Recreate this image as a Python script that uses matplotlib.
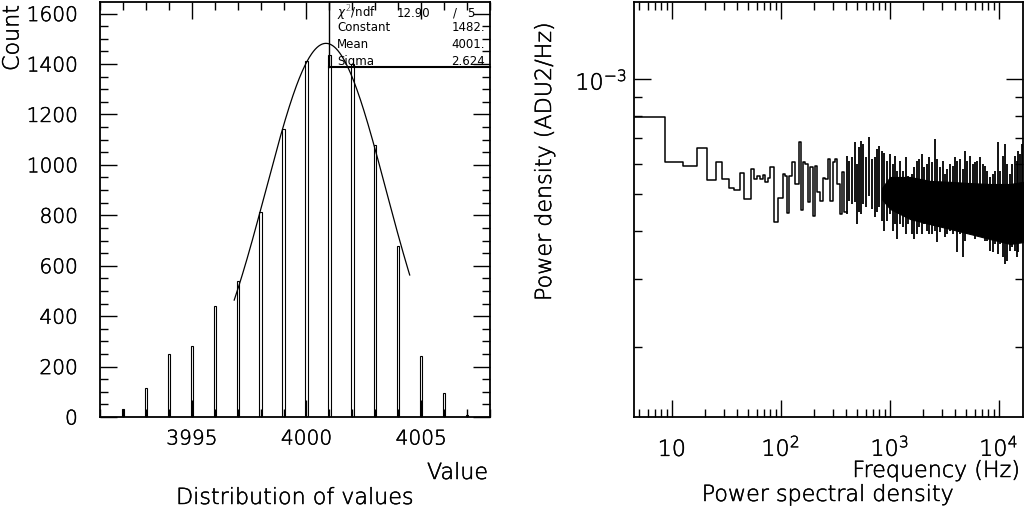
import numpy as np
import matplotlib
matplotlib.use("Agg")
import matplotlib.pyplot as plt
import matplotlib.patheffects as pe
from matplotlib.ticker import FixedLocator, MultipleLocator, NullFormatter, FixedFormatter, LogLocator

plt.rcParams['font.family'] = ['DejaVu Sans']
plt.rcParams['font.weight'] = 'light'
plt.rcParams['mathtext.fontset'] = 'dejavusans'

# ---------------- Left panel data: distribution of values ----------------
hist_values = [3992, 3993, 3994, 3995, 3996, 3997, 3998, 3999, 4000,
               4001, 4002, 4003, 4004, 4005, 4006, 4007]
hist_counts = [32, 115, 250, 281, 442, 539, 812, 1143, 1412,
               1437, 1401, 1080, 680, 241, 95, 8]
fit_constant = 1482.0
fit_mean = 4000.85
fit_sigma = 2.624
fit_lo, fit_hi = 3996.85, 4004.5
stats_names = [r"$\chi^2$/ndf", "Constant", "Mean", "Sigma"]
stats_vals = ["12.90", "1482.", "4001.", "2.624"]
stats_ndf = "5"
left_xticks = [3995, 4000, 4005]

# ---------------- Right panel data: power spectral density ----------------
# resolved low-frequency bins (left edge in Hz, power in ADU2/Hz)
psd_freq = [4.3, 8.68, 12.78, 16.95, 20.9, 25.3, 29.1, 33.6, 37.5, 42.3,
            46.1, 50.4, 53.4, 57.3, 60.2, 64.6, 68.4, 71.8, 76.5, 79.8,
            86.8, 95.1, 104.3, 109.5, 113.5, 119.9, 126.2, 135.3, 148.2, 152.6,
            160.2, 167.1, 176.2, 185.7, 196.6, 206.4, 216.7, 229.5, 246.0, 254.9,
            273.4, 283.4, 300.0, 315.0, 330.7, 349.9, 362.7, 380.8, 397.3]
psd_power = [7.97e-4, 6.06e-4, 5.94e-4, 6.62e-4, 5.45e-4, 6.07e-4, 5.48e-4, 5.18e-4, 5.13e-4, 5.68e-4,
             4.86e-4, 4.87e-4, 5.83e-4, 5.48e-4, 5.59e-4, 5.48e-4, 5.62e-4, 5.39e-4, 5.51e-4, 5.88e-4,
             4.24e-4, 4.89e-4, 5.65e-4, 5.59e-4, 4.46e-4, 5.59e-4, 6.06e-4, 5.32e-4, 6.83e-4, 4.56e-4,
             6.06e-4, 6.00e-4, 4.77e-4, 5.88e-4, 4.38e-4, 5.94e-4, 5.06e-4, 4.81e-4, 5.50e-4, 5.48e-4,
             6.18e-4, 4.81e-4, 6.06e-4, 6.18e-4, 5.32e-4, 4.44e-4, 5.71e-4, 4.49e-4, 4.49e-4]

# dense high-frequency region, read column by column: max and min excursions
col_freq = [405.8, 426.0, 448.2, 480.6, 504.5, 526.2, 548.9, 572.6, 606.2, 641.7,
            683.9, 733.1, 769.6, 802.9, 844.6, 886.7, 938.6, 1006.5, 1065.4, 1118.4,
            1174.0, 1243.1, 1332.7, 1410.6, 1480.8, 1591.1, 1670.4, 1769.4, 1868.5, 1966.8,
            2064.6, 2185.5, 2309.2, 2429.2, 2603.4, 2733.2, 2894.2, 3063.9, 3217.3, 3377.4,
            3575.4, 3784.4, 3972.6, 4170.2, 4415.7, 4673.7, 4907.4, 5150.7, 5453.4, 5773.8,
            6061.3, 6363.0, 6737.1, 7134.4, 7489.6, 7862.5, 8324.6, 8810.5, 9307.0, 9854.1,
            10277, 10882, 11424, 11993, 12698, 13331, 14025, 14630, 15128, 15684, 16361]
col_hi = [6.31e-4, 6.12e-4, 6.25e-4, 6.83e-4, 6.00e-4, 6.63e-4, 6.90e-4, 6.77e-4, 6.25e-4, 7.07e-4,
          6.18e-4, 6.25e-4, 6.56e-4, 6.69e-4, 6.50e-4, 6.43e-4, 6.12e-4, 6.37e-4, 6.00e-4, 6.31e-4,
          5.76e-4, 6.12e-4, 5.76e-4, 6.25e-4, 5.59e-4, 5.65e-4, 5.88e-4, 6.12e-4, 6.18e-4, 6.37e-4,
          5.88e-4, 6.00e-4, 6.25e-4, 6.06e-4, 6.97e-4, 6.18e-4, 5.88e-4, 6.12e-4, 5.65e-4, 5.82e-4,
          6.00e-4, 5.94e-4, 6.25e-4, 6.12e-4, 6.18e-4, 5.82e-4, 6.50e-4, 6.12e-4, 6.31e-4, 6.00e-4,
          6.06e-4, 6.12e-4, 6.25e-4, 6.00e-4, 5.94e-4, 5.76e-4, 5.54e-4, 5.65e-4, 5.76e-4, 6.83e-4,
          5.76e-4, 6.31e-4, 6.77e-4, 6.00e-4, 5.65e-4, 6.00e-4, 6.31e-4, 6.12e-4, 6.50e-4, 6.37e-4, 6.77e-4]
col_lo = [4.44e-4, 4.81e-4, 4.72e-4, 4.77e-4, 4.18e-4, 4.49e-4, 4.44e-4, 4.72e-4, 4.62e-4, 4.96e-4,
          4.58e-4, 4.35e-4, 4.49e-4, 4.62e-4, 4.27e-4, 4.02e-4, 4.27e-4, 4.44e-4, 4.02e-4, 4.18e-4,
          3.82e-4, 4.18e-4, 4.10e-4, 3.94e-4, 4.18e-4, 3.94e-4, 3.82e-4, 3.94e-4, 4.10e-4, 3.94e-4,
          4.18e-4, 4.02e-4, 3.94e-4, 3.94e-4, 4.02e-4, 3.75e-4, 3.98e-4, 4.10e-4, 3.86e-4, 3.94e-4,
          4.02e-4, 3.94e-4, 4.10e-4, 3.53e-4, 3.94e-4, 3.42e-4, 3.78e-4, 3.94e-4, 4.10e-4, 4.02e-4,
          3.82e-4, 4.06e-4, 3.94e-4, 3.86e-4, 3.78e-4, 3.78e-4, 3.56e-4, 3.53e-4, 3.71e-4, 3.49e-4,
          3.71e-4, 3.42e-4, 3.29e-4, 3.35e-4, 3.56e-4, 3.64e-4, 3.56e-4, 3.42e-4, 3.53e-4, 3.78e-4, 3.78e-4]

# solid core of the dense region (thin where it starts)
band_freq = [850, 1006, 1536, 2343, 3575, 5453, 8325, 12698, 16710]
band_hi = [5.20e-4, 5.55e-4, 5.55e-4, 5.42e-4, 5.39e-4, 5.35e-4, 5.32e-4, 5.32e-4, 5.39e-4]
band_lo = [4.85e-4, 4.58e-4, 4.31e-4, 4.18e-4, 4.06e-4, 3.94e-4, 3.82e-4, 3.71e-4, 3.75e-4]

right_xticks = [10, 100, 1000, 10000]
right_xticklabels = ["10", r"$10^{2}$", r"$10^{3}$", r"$10^{4}$"]
right_yticks = [1e-3]
right_yticklabels = [r"$10^{-3}$"]

# ---------------- Figure ----------------
W, H = 1026, 510
fig = plt.figure(figsize=(W / 100, H / 100), dpi=100)
ax1 = fig.add_axes([100 / W, 1 - 418 / H, 390 / W, 415 / H])
ax2 = fig.add_axes([634 / W, 1 - 418 / H, 389 / W, 415 / H])

TICK_FS = 14.5
LABEL_FS = 16
DARKEN = [pe.withStroke(linewidth=0.35, foreground='black')]

# ---- left ----
ax1.bar(hist_values, hist_counts, width=0.1, fill=False, edgecolor='k', linewidth=0.8)
xf = np.linspace(fit_lo, fit_hi, 300)
ax1.plot(xf, fit_constant * np.exp(-0.5 * ((xf - fit_mean) / fit_sigma) ** 2), color='k', lw=0.9)
ax1.set_xlim(3991, 4008)
ax1.set_ylim(0, 1646)
ax1.xaxis.set_major_locator(FixedLocator(left_xticks))
ax1.xaxis.set_minor_locator(MultipleLocator(1))
ax1.yaxis.set_major_locator(MultipleLocator(200))
ax1.yaxis.set_minor_locator(MultipleLocator(50))
ax1.tick_params(which='both', direction='in', top=True, right=True, width=1.0, labelsize=TICK_FS)
ax1.tick_params(which='major', length=12)
ax1.tick_params(which='minor', length=5.8)
ax1.tick_params(axis='y', pad=16)
ax1.tick_params(axis='x', pad=9)
for s in ax1.spines.values():
    s.set_linewidth(1.3)

# stats box (outline only)
bx0, by0 = 0.587, 0.843
ax1.plot([bx0, bx0], [by0, 1.0], transform=ax1.transAxes, color='k', lw=1.0, clip_on=False)
ax1.plot([bx0, 1.0], [by0, by0], transform=ax1.transAxes, color='k', lw=1.5, clip_on=False)
rows = [0.975, 0.940, 0.901, 0.860]
SFS = 8.5
for name, val, yy in zip(stats_names, stats_vals, rows):
    kw = dict(transform=ax1.transAxes, fontsize=SFS, va='center', fontweight='normal')
    ax1.text(0.608, yy, name, ha='left', **kw)
    if name.startswith("$"):
        ax1.text(0.846, yy, val, ha='right', **kw)
        ax1.text(0.910, yy, "/", ha='center', **kw)
        ax1.text(0.960, yy, stats_ndf, ha='right', **kw)
    else:
        ax1.text(0.987, yy, val, ha='right', **kw)

texts = []
texts.append(fig.text(12.5 / W, 1 - 72 / H, "Count", rotation=90, ha='center', va='bottom', fontsize=LABEL_FS))
texts.append(fig.text(488 / W, 1 - 474 / H, "Value", ha='right', va='center', fontsize=LABEL_FS))
texts.append(fig.text(295 / W, 1 - 505 / H, "Distribution of values", ha='center', va='baseline', fontsize=LABEL_FS))

# ---- right ----
ax2.set_xscale('log')
ax2.set_yscale('log')
ax2.step(psd_freq + [col_freq[0]], psd_power + [psd_power[-1]], where='post', color='k', lw=1.1)
ax2.fill_between(band_freq, band_lo, band_hi, color='k', lw=0.8)
ax2.vlines(col_freq, col_lo, col_hi, color='k', lw=1.3)
ax2.set_xlim(4.5, 16700)
ax2.set_ylim(1.31e-4, 1.59e-3)
ax2.xaxis.set_major_locator(FixedLocator(right_xticks))
ax2.xaxis.set_major_formatter(FixedFormatter(right_xticklabels))
ax2.xaxis.set_minor_locator(LogLocator(base=10, subs=np.arange(2, 10)))
ax2.xaxis.set_minor_formatter(NullFormatter())
ax2.yaxis.set_major_locator(FixedLocator(right_yticks))
ax2.yaxis.set_major_formatter(FixedFormatter(right_yticklabels))
ax2.yaxis.set_minor_locator(LogLocator(base=10, subs=np.arange(2, 10)))
ax2.yaxis.set_minor_formatter(NullFormatter())
ax2.tick_params(which='both', direction='in', top=True, right=True, width=1.0, labelsize=16)
ax2.tick_params(which='major', length=12)
ax2.tick_params(which='minor', length=5.8)
ax2.tick_params(axis='y', pad=5)
ax2.tick_params(axis='x', pad=28)
plt.setp(ax2.get_xticklabels(), va='baseline')
for s in ax2.spines.values():
    s.set_linewidth(1.3)

texts.append(fig.text(545 / W, 1 - 302 / H, "Power density (ADU2/Hz)", rotation=90, ha='center', va='bottom', fontsize=LABEL_FS))
texts.append(fig.text(1020 / W, 1 - 472 / H, "Frequency (Hz)", ha='right', va='center', fontsize=LABEL_FS))
texts.append(fig.text(828 / W, 1 - 502 / H, "Power spectral density", ha='center', va='baseline', fontsize=LABEL_FS))

for t in texts + ax1.get_xticklabels() + ax1.get_yticklabels() + ax2.get_xticklabels() + ax2.get_yticklabels():
    t.set_path_effects(DARKEN)

fig.savefig("out.png", dpi=100)
